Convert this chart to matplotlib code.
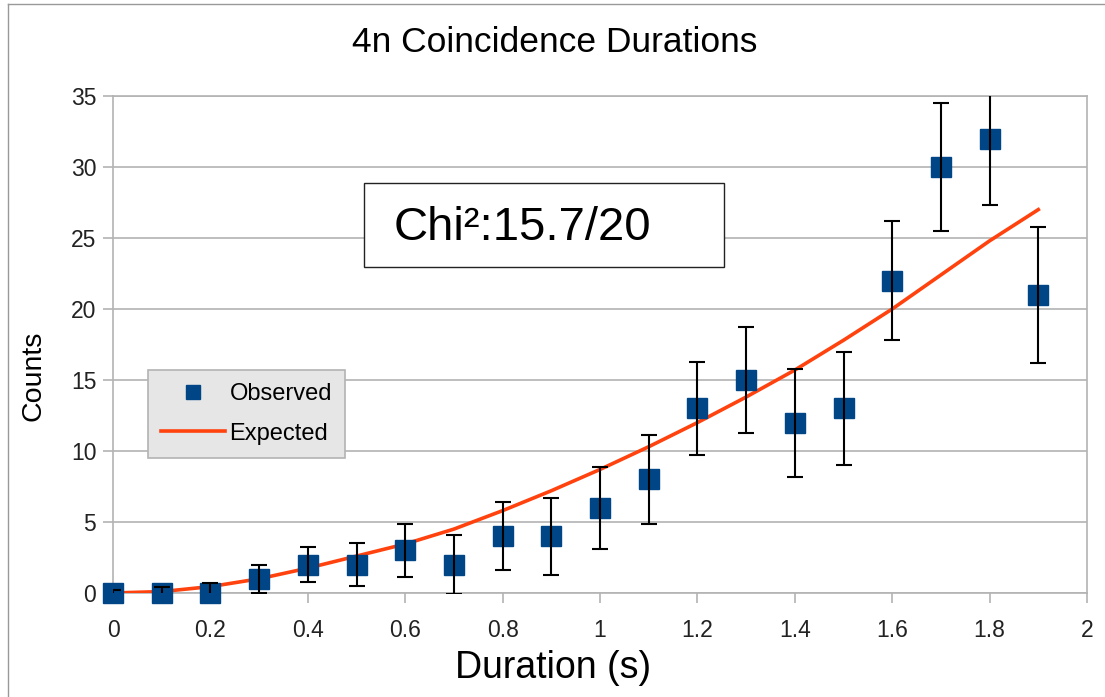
import numpy as np
import matplotlib
matplotlib.use('Agg')
import matplotlib.pyplot as plt
from matplotlib.patches import Rectangle
from matplotlib.lines import Line2D

plt.rcParams['font.family'] = ['Liberation Sans', 'DejaVu Sans']

durations = [0.0, 0.1, 0.2, 0.3, 0.4, 0.5, 0.6, 0.7, 0.8, 0.9,
             1.0, 1.1, 1.2, 1.3, 1.4, 1.5, 1.6, 1.7, 1.8, 1.9]
observed = [0, 0, 0, 1, 2, 2, 3, 2, 4, 4, 6, 8, 13, 15, 12, 13, 22, 30, 32, 21]
errors = [0.2, 0.45, 0.7, 1.0, 1.25, 1.5, 1.85, 2.1, 2.4, 2.7,
          2.9, 3.15, 3.3, 3.7, 3.8, 4.0, 4.2, 4.5, 4.7, 4.8]
expected = [0, 0.1, 0.45, 1.0, 1.75, 2.6, 3.45, 4.5, 5.8, 7.2,
            8.7, 10.3, 12.0, 13.8, 15.7, 17.8, 20.0, 22.4, 24.8, 27.0]
x_ticks = [0, 0.2, 0.4, 0.6, 0.8, 1, 1.2, 1.4, 1.6, 1.8, 2]
x_tick_labels = ['0', '0.2', '0.4', '0.6', '0.8', '1', '1.2', '1.4', '1.6', '1.8', '2']
y_ticks = [0, 5, 10, 15, 20, 25, 30, 35]

blue = '#004586'
orange = '#ff420e'
gray = '#b3b3b3'

fig = plt.figure(figsize=(11.05, 6.97), dpi=100)
ax = fig.add_axes([113 / 1105, 104 / 697, 974 / 1105, 497 / 697])

ax.plot(durations, expected, color=orange, lw=2.6, zorder=3, label='Expected')
ax.plot(durations, observed, 's', color=blue, ms=14, zorder=4, clip_on=False,
        label='Observed')
ax.errorbar(durations, observed, yerr=errors, fmt='none', ecolor='black',
            elinewidth=1.5, capsize=5.5, capthick=1.5, zorder=5)

ax.set_xlim(0, 2)
ax.set_ylim(0, 35)
ax.set_xticks(x_ticks)
ax.set_xticklabels(x_tick_labels)
ax.set_yticks(y_ticks)
ax.yaxis.grid(True, color=gray, lw=1.2)
ax.set_axisbelow(True)
for s in ax.spines.values():
    s.set_color(gray)
    s.set_linewidth(1.2)
ax.tick_params(axis='both', direction='out', length=7, width=1.2, color=gray,
               labelsize=16.5, labelcolor='#222222')
ax.tick_params(axis='x', pad=12)
ax.tick_params(axis='y', pad=5)

# title and axis labels sit left of the axes centre in the reference
fig.text(555 / 1105, 1 - 43 / 697, '4n Coincidence Durations', fontsize=25.5,
         ha='center', va='center')
ax.set_xlabel('Duration (s)', fontsize=27)
ax.xaxis.set_label_coords((553 - 113) / 974, (593 - 650) / 497)
ax.set_ylabel('Counts', fontsize=20.5, va='center')
ax.yaxis.set_label_coords((33 - 113) / 974, (593 - 376) / 497)

handles, labels = ax.get_legend_handles_labels()
leg = ax.legend([handles[1], handles[0]], [labels[1], labels[0]],
                loc='upper left', bbox_to_anchor=(0.036, 0.449),
                borderaxespad=0, fontsize=17, frameon=True, fancybox=False,
                facecolor='#e6e6e6', edgecolor=gray, framealpha=1,
                handlelength=2.7, numpoints=1, markerscale=0.75,
                borderpad=0.55, labelspacing=0.75, handletextpad=0.2)
leg.get_frame().set_linewidth(1.2)

fig.add_artist(Rectangle((364 / 1105, 430 / 697), 360 / 1105, 84 / 697,
                         transform=fig.transFigure, facecolor='white',
                         edgecolor='#222222', lw=1.0, zorder=10))
fig.text(394 / 1105, 469 / 697, 'Chi²:15.7/20', fontsize=34, va='center',
         ha='left', zorder=11)

fig.add_artist(Line2D([8 / 1105, 8 / 1105], [0, 1 - 4 / 697], color='#999999',
                      lw=1.0, transform=fig.transFigure))
fig.add_artist(Line2D([8 / 1105, 1], [1 - 4 / 697, 1 - 4 / 697], color='#999999',
                      lw=1.0, transform=fig.transFigure))

fig.savefig('out.png', dpi=100)
